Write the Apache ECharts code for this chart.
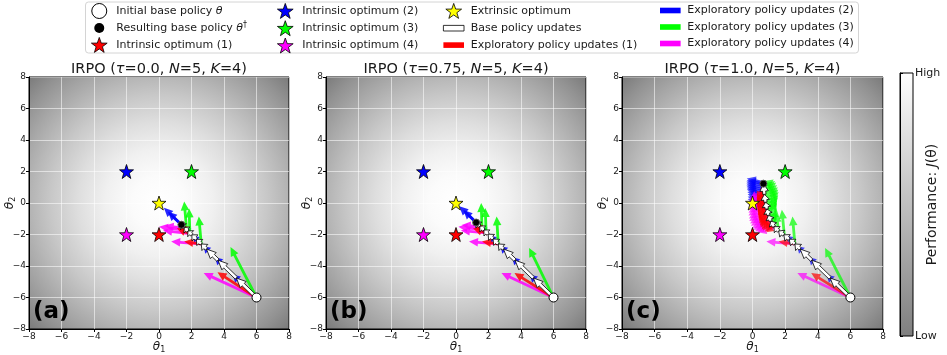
<!doctype html>
<html lang="en">
<head>
<meta charset="utf-8"/>
<title>IRPO exploration panels</title>
<script src="https://cdn.jsdelivr.net/npm/echarts@6/dist/echarts.min.js"></script>
<style>
  html, body { margin: 0; padding: 0; background: #fff; }
  #chart { width: 947px; height: 355px; }
</style>
</head>
<body>
<div id="chart"></div>
<script>
// ---- data ----
const taus = ["0.0", "0.75", "1.0"];
const panelLabels = ["(a)", "(b)", "(c)"];
const initialPolicy = [6, -6];
const extrinsicOptimum = [0, 0];
const intrinsicOptima = [[0, -2], [-2, 2], [2, 2], [-2, -2]];
const resultPolicy = [[1.38, -1.38], [1.24, -1.24], [0.67, 1.23]];

// base policy iterates (arrows join consecutive points)
const basePathA = [[6, -6], [4.76, -4.76], [3.63, -3.63], [2.92, -2.92], [2.6, -2.6],
  [2.3, -2.3], [2.02, -2.02], [1.78, -1.78], [1.56, -1.56], [1.38, -1.38]];
const basePathB = [[6, -6], [4.76, -4.76], [3.63, -3.63], [2.92, -2.92], [2.6, -2.6],
  [2.28, -2.28], [1.98, -1.98], [1.72, -1.72], [1.47, -1.47], [1.24, -1.24]];
const basePathC = [[6, -6], [4.76, -4.76], [3.63, -3.63], [2.92, -2.92], [2.6, -2.6],
  [2.25, -2.3], [1.92, -2.02], [1.6, -1.78], [1.32, -1.5], [1.12, -1.15], [0.98, -0.78],
  [0.88, -0.38], [0.8, 0.05], [0.73, 0.55], [0.67, 1.23]];

// exploratory updates, [x0, y0, x1, y1]
const redA = [[6, -6, 3.6, -4.4], [2.6, -2.6, 1.55, -2.45], [2.0, -2.0, 1.1, -1.6], [1.8, -1.8, 1.3, -1.55]];
const blueA = [[5.0, -5.0, 4.55, -4.55], [3.9, -3.9, 3.45, -3.45], [3.15, -3.15, 2.75, -2.75],
  [2.45, -2.45, 2.1, -2.1], [1.9, -1.9, 1.6, -1.6], [1.38, -1.38, 0.3, -0.3], [1.3, -1.3, 0.55, -0.55]];
const greenA = [[6, -6, 4.4, -2.8], [2.6, -2.6, 2.45, -0.85], [1.9, -1.9, 1.85, -0.35], [1.7, -1.7, 1.55, 0.1]];
const magentaA = [[6, -6, 2.75, -4.45], [2.6, -2.6, 0.75, -2.45], [1.95, -1.95, 0.25, -1.75],
  [1.75, -1.75, 0.0, -1.5], [1.6, -1.6, 0.35, -1.45]];

const redB = [[6, -6, 3.6, -4.45], [2.6, -2.6, 1.6, -2.45], [1.95, -1.95, 1.05, -1.6], [1.7, -1.7, 1.2, -1.5]];
const blueB = [[5.0, -5.0, 4.55, -4.55], [3.9, -3.9, 3.45, -3.45], [3.15, -3.15, 2.75, -2.75],
  [2.45, -2.45, 2.1, -2.1], [1.85, -1.85, 1.55, -1.55], [1.24, -1.24, 0.2, -0.2], [1.15, -1.15, 0.45, -0.45]];
const greenB = [[6, -6, 4.5, -2.85], [2.6, -2.6, 2.5, -0.85], [1.85, -1.85, 1.8, -0.32], [1.6, -1.6, 1.55, 0.0]];
const magentaB = [[6, -6, 2.8, -4.45], [2.6, -2.6, 0.8, -2.45], [1.9, -1.9, 0.3, -1.75],
  [1.7, -1.7, 0.15, -1.5], [1.5, -1.5, 0.35, -1.4]];

const redC = [[6, -6, 3.6, -4.45], [2.6, -2.6, 1.6, -2.45], [1.3, -1.45, 0.85, -1.85], [1.1, -1.05, 0.65, -1.75],
  [0.95, -0.65, 0.5, -1.55], [0.86, -0.25, 0.42, -1.3], [0.8, 0.15, 0.38, -1.0], [0.75, 0.5, 0.33, -0.6],
  [0.71, 0.85, 0.3, -0.25], [0.68, 1.15, 0.3, 0.15], [0.7, 1.0, 0.3, -0.05], [0.73, 0.68, 0.32, -0.42],
  [0.78, 0.32, 0.35, -0.8], [0.83, -0.05, 0.4, -1.15], [0.9, -0.45, 0.47, -1.45], [1.02, -0.8, 0.58, -1.68],
  [1.2, -1.2, 0.78, -1.82]];
const blueC = [[5.0, -5.0, 4.55, -4.55], [3.9, -3.9, 3.45, -3.45], [3.15, -3.15, 2.75, -2.75],
  [2.45, -2.45, 2.1, -2.1], [0.67, 1.3, -0.35, 1.55], [0.68, 1.1, -0.38, 1.35], [0.7, 0.85, -0.38, 1.1],
  [0.72, 0.6, -0.35, 0.85], [0.75, 0.3, -0.3, 0.55], [0.78, 0.0, -0.3, 0.25], [0.82, -0.3, -0.25, -0.05],
  [0.67, 1.2, -0.35, 1.45], [0.69, 0.97, -0.38, 1.22], [0.71, 0.72, -0.36, 0.97], [0.74, 0.45, -0.32, 0.7],
  [0.77, 0.15, -0.3, 0.4], [0.8, -0.15, -0.28, 0.1]];
const greenC = [[6, -6, 4.45, -2.85], [2.6, -2.6, 2.45, -0.85], [1.95, -2.0, 1.8, -0.43], [1.6, -1.78, 1.45, -0.64],
  [1.3, -1.5, 1.45, -0.3], [1.0, -0.9, 1.5, 0.0], [0.9, -0.5, 1.55, 0.35], [0.85, -0.1, 1.6, 0.7],
  [0.8, 0.3, 1.55, 1.0], [0.75, 0.7, 1.45, 1.3], [0.7, 1.05, 1.3, 1.5], [0.72, 0.88, 1.38, 1.4],
  [0.77, 0.5, 1.5, 1.15], [0.82, 0.1, 1.58, 0.85], [0.87, -0.3, 1.58, 0.5], [0.95, -0.7, 1.5, 0.15],
  [1.15, -1.2, 1.45, -0.5]];
const magentaC = [[6, -6, 2.75, -4.45], [2.6, -2.6, 0.85, -2.45], [1.4, -1.55, 0.3, -1.85], [1.15, -1.15, 0.05, -1.7],
  [1.0, -0.8, -0.1, -1.45], [0.9, -0.45, -0.2, -1.15], [0.84, -0.1, -0.25, -0.8], [0.8, 0.25, -0.25, -0.45],
  [0.76, 0.55, -0.25, -0.1], [0.72, 0.85, -0.2, 0.2], [0.74, 0.7, -0.22, 0.05], [0.78, 0.4, -0.25, -0.28],
  [0.82, 0.08, -0.25, -0.62], [0.87, -0.28, -0.22, -0.98], [0.95, -0.62, -0.15, -1.3], [1.07, -0.98, -0.02, -1.58],
  [1.25, -1.35, 0.15, -1.8]];

const basePaths = [basePathA, basePathB, basePathC];
const reds = [redA, redB, redC];
const blues = [blueA, blueB, blueC];
const greens = [greenA, greenB, greenC];
const magentas = [magentaA, magentaB, magentaC];

// ---- style ----
const FONT = "DejaVu Sans";
const INK = "#1a1a1a";
const STAR = "path://M50,2 L61.8,36.2 L97.6,36.6 L69,58.2 L79.4,92.6 L50,71.8 L20.6,92.6 L31,58.2 L2.4,36.6 L38.2,36.2 Z";
const DOT = "path://M0,0 M15,15 M2.5,7.5 A5,5 0 1 1 12.5,7.5 A5,5 0 1 1 2.5,7.5 Z";
// thin bar padded with empty moves so every legend row keeps the same height
const BAR = "path://M0,-5 M0,11 M0,0 L22,0 L22,6 L0,6 Z";
const optColors = ["#ff0000", "#0000ff", "#00ff00", "#ff00ff"];

const N = {
  init: "Initial base policy θ",
  result: "Resulting base policy θ†",
  opt: ["Intrinsic optimum (1)", "Intrinsic optimum (2)", "Intrinsic optimum (3)", "Intrinsic optimum (4)"],
  ext: "Extrinsic optimum",
  base: "Base policy updates",
  exp: ["Exploratory policy updates (1)", "Exploratory policy updates (2)",
        "Exploratory policy updates (3)", "Exploratory policy updates (4)"],
};

const grids = [
  { left: 29, top: 77, width: 260, height: 252 },
  { left: 326, top: 77, width: 260, height: 252 },
  { left: 622, top: 77, width: 261, height: 252 },
];

const surface = {
  type: "radial", x: 0.5, y: 0.5, r: 0.71,
  colorStops: [
    { offset: 0, color: "#ffffff" }, { offset: 0.15, color: "#fbfbfb" },
    { offset: 0.3, color: "#f0f0f0" }, { offset: 0.45, color: "#dedede" },
    { offset: 0.6, color: "#c8c8c8" }, { offset: 0.7, color: "#b7b7b7" },
    { offset: 0.8, color: "#a5a5a5" }, { offset: 0.9, color: "#929292" },
    { offset: 1, color: "#7c7c7c" },
  ],
};

function segments(path) {
  return path.slice(1).map((p, i) => [path[i][0], path[i][1], p[0], p[1]]);
}

function arrowRenderer(fill, stroke, lw, shaftW, headW, headL, opacity) {
  return function (params, api) {
    const p0 = api.coord([api.value(0), api.value(1)]);
    const p1 = api.coord([api.value(2), api.value(3)]);
    const dx = p1[0] - p0[0], dy = p1[1] - p0[1];
    const len = Math.hypot(dx, dy) || 1;
    const ux = dx / len, uy = dy / len, nx = -uy, ny = ux;
    const hl = Math.min(headL, len * 0.7);
    const bx = p1[0] - ux * hl, by = p1[1] - uy * hl;
    const s = shaftW / 2, h = headW / 2;
    return {
      type: "polygon",
      shape: { points: [
        [p0[0] + nx * s, p0[1] + ny * s], [bx + nx * s, by + ny * s], [bx + nx * h, by + ny * h],
        [p1[0], p1[1]],
        [bx - nx * h, by - ny * h], [bx - nx * s, by - ny * s], [p0[0] - nx * s, p0[1] - ny * s],
      ] },
      style: { fill: fill, stroke: stroke, lineWidth: lw, opacity: opacity },
    };
  };
}

const tickFmt = (v) => String(v).replace("-", "\u2212");
const subRich = {
  i: { fontFamily: FONT, fontSize: 12, fontStyle: "italic", color: INK },
  s: { fontFamily: FONT, fontSize: 8, color: INK, padding: [7, 0, 0, 0] },
};

const xAxes = [], yAxes = [], series = [];
grids.forEach((g, i) => {
  xAxes.push({
    gridIndex: i, type: "value", min: -8, max: 8, interval: 2,
    name: "{i|θ}{s|1}", nameLocation: "middle", nameGap: 10, nameMoveOverlap: false,
    nameTextStyle: { rich: subRich },
    axisLine: { onZero: false, lineStyle: { color: "#000", width: 1 } },
    axisTick: { length: 3, lineStyle: { color: "#000" } },
    axisLabel: { formatter: tickFmt, fontFamily: FONT, fontSize: 9, color: INK, margin: 3 },
    splitLine: { show: true, lineStyle: { color: "rgba(255,255,255,0.55)", width: 1 } },
  });
  yAxes.push({
    gridIndex: i, type: "value", min: -8, max: 8, interval: 2,
    name: "{i|θ}{s|2}", nameLocation: "middle", nameGap: 12, nameRotate: 90, nameMoveOverlap: false,
    nameTextStyle: { rich: subRich },
    axisLine: { onZero: false, lineStyle: { color: "#000", width: 1 } },
    axisTick: { length: 3, lineStyle: { color: "#000" } },
    axisLabel: { formatter: tickFmt, fontFamily: FONT, fontSize: 9, color: INK, margin: 3 },
    splitLine: { show: true, lineStyle: { color: "rgba(255,255,255,0.55)", width: 1 } },
  });

  const ax = { xAxisIndex: i, yAxisIndex: i };
  const explore = [
    [1, blues[i]], [3, magentas[i]], [2, greens[i]], [0, reds[i]],
  ];
  explore.forEach(([k, data]) => {
    series.push(Object.assign({
      type: "custom", name: N.exp[k], data: data, z: 3, clip: true,
      encode: { x: [0, 2], y: [1, 3] },
      itemStyle: { color: optColors[k] },
      renderItem: arrowRenderer(optColors[k], null, 0, 2.8, 8.5, 9, i === 2 ? 0.7 : 0.85),
    }, ax));
  });
  series.push(Object.assign({
    type: "custom", name: N.base, data: segments(basePaths[i]), z: 4, clip: true,
    encode: { x: [0, 2], y: [1, 3] },
    itemStyle: { color: "#ffffff", borderColor: "#000" },
    renderItem: arrowRenderer("#ffffff", "#000000", 0.8, 3.2, 8.5, 9.5, 1),
  }, ax));

  intrinsicOptima.forEach((p, k) => {
    series.push(Object.assign({
      type: "scatter", name: N.opt[k], data: [p], z: 5,
      symbol: STAR, symbolSize: 14,
      itemStyle: { color: optColors[k], borderColor: "#000", borderWidth: 0.8, opacity: 1 },
    }, ax));
  });
  series.push(Object.assign({
    type: "scatter", name: N.ext, data: [extrinsicOptimum], z: 5,
    symbol: STAR, symbolSize: 14,
    itemStyle: { color: "#ffff00", borderColor: "#000", borderWidth: 0.8, opacity: 1 },
  }, ax));
  series.push(Object.assign({
    type: "scatter", name: N.init, data: [initialPolicy], z: 6,
    symbol: "circle", symbolSize: 9,
    itemStyle: { color: "#ffffff", borderColor: "#000", borderWidth: 1, opacity: 1 },
  }, ax));
  series.push(Object.assign({
    type: "scatter", name: N.result, data: [resultPolicy[i]], z: 6,
    symbol: "circle", symbolSize: 7,
    itemStyle: { color: "#000000", borderColor: "#555", borderWidth: 1, opacity: 1 },
  }, ax));
});

// colorbar as its own small grid
grids.push({ left: 900, top: 73, width: 13, height: 263 });
xAxes.push({ gridIndex: 3, type: "value", show: false, min: 0, max: 1 });
yAxes.push({
  gridIndex: 3, type: "value", position: "right", min: 0, max: 1, interval: 1,
  name: "Performance: {i|J}(θ)", nameLocation: "middle", nameGap: 12, nameRotate: 90,
  nameMoveOverlap: false,
  nameTextStyle: { fontFamily: FONT, fontSize: 14, color: INK,
    rich: { i: { fontFamily: FONT, fontSize: 14, fontStyle: "italic", color: INK } } },
  axisLine: { show: true, lineStyle: { color: "#000" } },
  axisTick: { show: true, length: 3, lineStyle: { color: "#000" } },
  axisLabel: { formatter: (v) => (v === 1 ? "High" : "Low"), fontFamily: FONT, fontSize: 11, color: INK, margin: 2 },
  splitLine: { show: false },
});

const gridOpts = grids.map((g, i) => Object.assign({
  show: true, borderColor: "#000", borderWidth: 1, containLabel: false, outerBoundsMode: "none",
  backgroundColor: i < 3 ? surface : {
    type: "linear", x: 0, y: 0, x2: 0, y2: 1,
    colorStops: [{ offset: 0, color: "#ffffff" }, { offset: 1, color: "#7f7f7f" }],
  },
}, g));

const legendText = {
  fontFamily: FONT, fontSize: 11, color: INK,
  rich: {
    i: { fontFamily: FONT, fontSize: 11, fontStyle: "italic", color: INK },
    sup: { fontFamily: FONT, fontSize: 8, color: INK, padding: [0, 0, 6, 0] },
  },
};
const legendFmt = (name) => name.replace("θ†", "{i|θ}{sup|†}").replace(/θ$/, "{i|θ}");
const legendBase = {
  orient: "vertical", top: 3, itemWidth: 24, itemHeight: 15, itemGap: 1.5,
  selectedMode: false, textStyle: legendText, formatter: legendFmt, padding: 0,
};
const starItem = (name, color) => ({ name, icon: STAR, itemStyle: { color, borderColor: "#000", borderWidth: 0.8 } });
const barItem = (name, color, border) => ({ name, icon: BAR,
  itemStyle: { color, borderColor: border || color, borderWidth: border ? 0.8 : 0 } });

const legends = [
  Object.assign({}, legendBase, { left: 91, data: [
    { name: N.init, icon: "circle", itemStyle: { color: "#fff", borderColor: "#000", borderWidth: 1 } },
    { name: N.result, icon: DOT, itemStyle: { color: "#000", borderColor: "#000", borderWidth: 0 } },
    starItem(N.opt[0], optColors[0]),
  ] }),
  Object.assign({}, legendBase, { left: 277, data: [
    starItem(N.opt[1], optColors[1]), starItem(N.opt[2], optColors[2]), starItem(N.opt[3], optColors[3]),
  ] }),
  Object.assign({}, legendBase, { left: 443, data: [
    starItem(N.ext, "#ffff00"), barItem(N.base, "#ffffff", "#000"), barItem(N.exp[0], optColors[0]),
  ] }),
  Object.assign({}, legendBase, { left: 660, data: [
    barItem(N.exp[1], optColors[1]), barItem(N.exp[2], optColors[2]), barItem(N.exp[3], optColors[3]),
  ] }),
];

const titleRich = {
  n: { fontFamily: FONT, fontSize: 14.5, fontWeight: "normal", color: INK },
  i: { fontFamily: FONT, fontSize: 14.5, fontWeight: "normal", fontStyle: "italic", color: INK },
};
const titles = taus.map((t, i) => ({
  text: `{n|IRPO (}{i|τ}{n|=${t}, }{i|N}{n|=5, }{i|K}{n|=4)}`,
  left: grids[i].left + grids[i].width / 2, top: 62, padding: 0, textAlign: "center",
  textStyle: { fontWeight: "normal", fontSize: 14.5, fontFamily: FONT, rich: titleRich },
}));

const graphics = [
  { type: "rect", left: 85, top: 1.5, z: -1, silent: true,
    shape: { width: 773, height: 51, r: 3 },
    style: { fill: "#fff", stroke: "#d4d4d4", lineWidth: 1 } },
].concat(panelLabels.map((lab, i) => ({
  type: "text", left: grids[i].left + 4, top: 301, z: 100, silent: true,
  style: { text: lab, font: `bold 23px "${FONT}"`, fill: "#000" },
})));

const chart = echarts.init(document.getElementById("chart"), null, { renderer: "canvas" });
chart.setOption({
  animation: false,
  backgroundColor: "#ffffff",
  title: titles,
  legend: legends,
  grid: gridOpts,
  xAxis: xAxes,
  yAxis: yAxes,
  series: series,
  graphic: graphics,
});
</script>
</body>
</html>
